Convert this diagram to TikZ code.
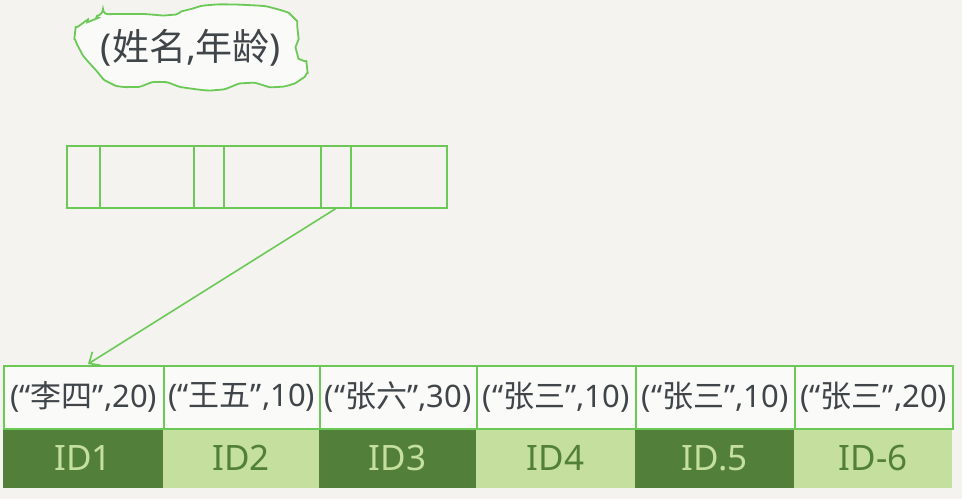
\documentclass[tikz,border=0pt]{standalone}
\usepackage{fontspec}
\setmainfont{Noto Sans}
\newfontfamily\cjk{Noto Sans CJK SC}
\usetikzlibrary{arrows.meta}
\definecolor{bg}{HTML}{F4F3EF}
\definecolor{lgreen}{HTML}{6CC957}
\definecolor{dgreen}{HTML}{52803A}
\definecolor{pgreen}{HTML}{C5DF9E}
\definecolor{ink}{HTML}{40454A}
\definecolor{cellw}{HTML}{FAFAF8}
\tikzset{
  x=1pt, y=-1pt,
  idxcell/.style={draw=lgreen, line width=1.6pt, minimum height=62pt, inner sep=0pt, anchor=north west},
  rowcell/.style={draw=lgreen, fill=cellw, line width=1.6pt, minimum height=63pt, inner sep=0pt, anchor=north west, text=ink, font=\fontsize{31}{34}\selectfont},
  iddark/.style={fill=dgreen, minimum height=60pt, inner sep=0pt, anchor=north west, text=pgreen, font=\fontsize{35}{38}\selectfont},
  idlight/.style={fill=pgreen, minimum height=60pt, inner sep=0pt, anchor=north west, text=dgreen, font=\fontsize{35}{38}\selectfont},
}
\begin{document}
\begin{tikzpicture}
\useasboundingbox[fill=bg] (0,0) rectangle (962,499);
% cloud
\draw[lgreen, line width=1.8pt, fill=cellw, rounded corners=6pt]
 plot[smooth cycle, tension=0.6] coordinates {(93,20) (103,15) (137,14) (170,15) (187,10) (210,5) (247,5) (273,8) (293,17) (298,33) (297,53) (307,67) (300,80) (277,87) (247,83) (217,90) (187,88) (160,82) (133,87) (110,83) (93,67) (80,50) (75,33) (83,23)};
\node[text=ink, font=\fontsize{37}{40}\selectfont, inner sep=0pt] (title) at (191,48) {({\cjk 姓名},{\cjk 年龄})};
% index entry
\node[idxcell, minimum width=33pt] (c1) at (66,145) {};
\node[idxcell, minimum width=94pt] (c2) at (99,145) {};
\node[idxcell, minimum width=30pt] (c3) at (193,145) {};
\node[idxcell, minimum width=97pt] (c4) at (223,145) {};
\node[idxcell, minimum width=30pt] (c5) at (320,145) {};
\node[idxcell, minimum width=96pt] (c6) at (350,145) {};
% ID row
\node[iddark,  minimum width=160pt] (i1) at (3,428) {ID1};
\node[idlight, minimum width=156pt] (i2) at (163,428) {ID2};
\node[iddark,  minimum width=157pt] (i3) at (319,428) {ID3};
\node[idlight, minimum width=159pt] (i4) at (476,428) {ID4};
\node[iddark,  minimum width=159pt] (i5) at (635,428) {ID.5};
\node[idlight, minimum width=158pt] (i6) at (794,428) {ID-6};
% data row
\node[rowcell, minimum width=160pt] (r1) at (3,365) {(“{\cjk 李四}”,20)};
\node[rowcell, minimum width=156pt] (r2) at (163,365) {(“{\cjk 王五}”,10)};
\node[rowcell, minimum width=157pt] (r3) at (319,365) {(“{\cjk 张六}”,30)};
\node[rowcell, minimum width=159pt] (r4) at (476,365) {(“{\cjk 张三}”,10)};
\node[rowcell, minimum width=159pt] (r5) at (635,365) {(“{\cjk 张三}”,10)};
\node[rowcell, minimum width=158pt] (r6) at (794,365) {(“{\cjk 张三}”,20)};
% pointer
\coordinate (tip) at (88,364);
\draw[lgreen, line width=1.6pt, -{Straight Barb[length=9pt,width=16pt]}] (c5.south) -- (tip);
\end{tikzpicture}
\end{document}
